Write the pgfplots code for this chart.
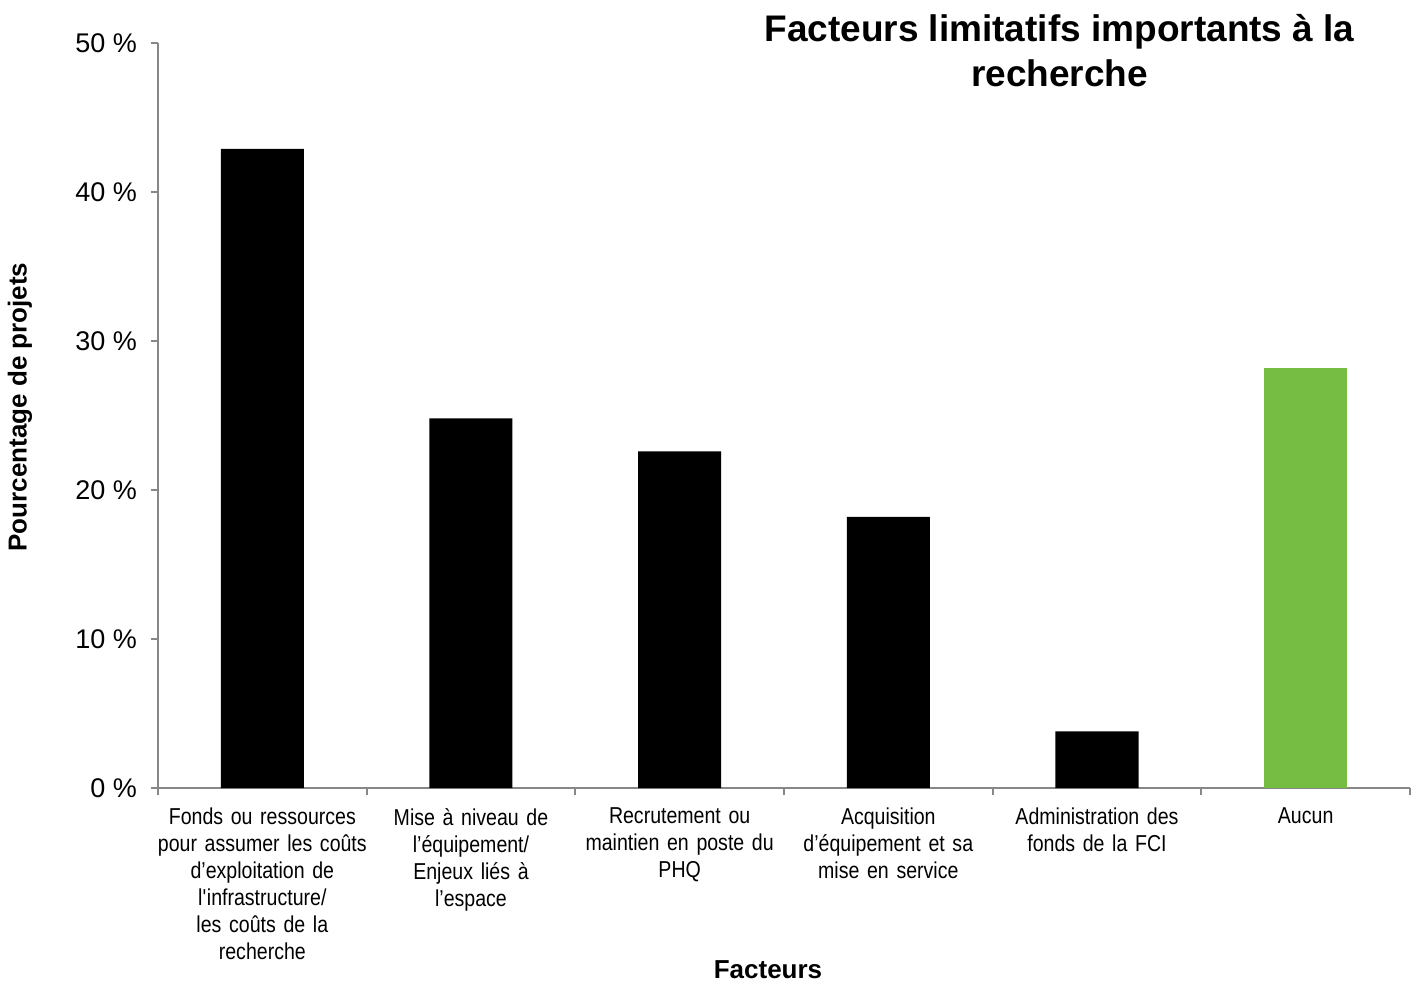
\documentclass[border=0pt]{standalone}
\usepackage{pgfplots}
\pgfplotsset{compat=1.18}
\usepackage{fontspec}
\setmainfont{Liberation Sans}
\newfontfamily\narrow{Liberation Sans}[FakeStretch=0.85]
\definecolor{axisgray}{HTML}{878787}
\definecolor{bargreen}{HTML}{76BE43}

\begin{document}
\begin{tikzpicture}
\useasboundingbox (-79pt,-96.5pt) rectangle (630pt,394pt);
\begin{axis}[
    scale only axis,
    width=626pt, height=372.5pt,
    at={(0pt,0pt)}, anchor=south west,
    xmin=-0.5, xmax=5.5,
    ymin=0, ymax=50,
    axis x line*=bottom, axis y line*=left,
    axis line style={draw=axisgray, line width=1pt, -},
    tick align=outside,
    ytick={0,10,...,50},
    yticklabel={\pgfmathprintnumber{\tick} \%},
    /pgf/number format/assume math mode=true,
    yticklabel style={font=\fontsize{13.5}{15}\selectfont, xshift=-3.5pt},
    major tick length=3.5pt, minor tick length=3.5pt,
    ytick style={draw=axisgray, line width=1pt},
    xtick={0,...,5},
    major x tick style={draw=none},
    minor xtick={-0.5,0.5,...,5.5},
    minor x tick style={draw=axisgray, line width=1pt},
    xticklabels={
        {Fonds ou ressources\\pour assumer les coûts\\d’exploitation de\\l\textquotesingle infrastructure/\\les coûts de la\\recherche},
        {Mise à niveau de\\l’équipement/\\Enjeux liés à\\l’espace},
        {Recrutement ou\\maintien en poste du\\PHQ},
        {Acquisition\\d’équipement et sa\\mise en service},
        {Administration des\\fonds de la FCI},
        {Aucun}},
    xticklabel style={font=\narrow\fontsize{11.5}{13.5}\selectfont, text width=110pt, align=center, anchor=north, yshift=-3pt},
    ybar, bar width=41.5pt, bar shift=0pt,
]
\addplot[fill=black, draw=none] coordinates {(0,42.9) (1,24.8) (2,22.6) (3,18.2) (4,3.8)};
\addplot[fill=bargreen, draw=none] coordinates {(5,28.2)};
\end{axis}
\node[anchor=base, font=\bfseries\fontsize{18.5}{22}\selectfont] at (450.75pt,373pt) {Facteurs limitatifs importants à la};
\node[anchor=base, font=\bfseries\fontsize{18.5}{22}\selectfont] at (450.75pt,350.5pt) {recherche};
\node[rotate=90, font=\bfseries\fontsize{13}{15}\selectfont] at (-69pt,190.5pt) {Pourcentage de projets};
\node[anchor=base, font=\bfseries\fontsize{13}{15}\selectfont] at (305pt,-95pt) {Facteurs};
\end{tikzpicture}
\end{document}
